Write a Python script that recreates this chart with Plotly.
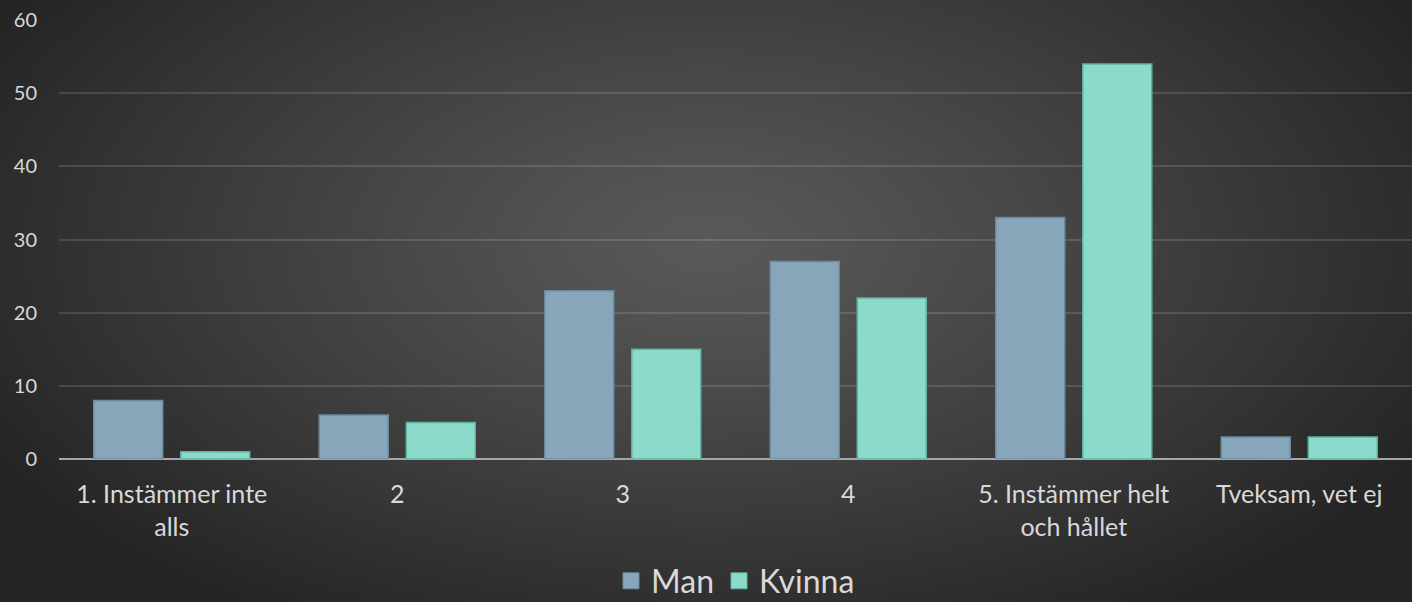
import base64
import struct
import zlib

import plotly.graph_objects as go

categories = ["1. Instämmer inte<br>alls", "2", "3", "4", "5. Instämmer helt<br>och hållet", "Tveksam, vet ej"]
man_values = [8, 6, 23, 27, 33, 3]
kvinna_values = [1, 5, 15, 22, 54, 3]
y_ticks = [0, 10, 20, 30, 40, 50, 60]

W, H = 1412, 602
ML, MR, MT, MB = 59, 0, 20, 143

MAN_COLOR = "#87a6ba"
MAN_EDGE = "#6a8aa0"
KV_COLOR = "#8cdac9"
KV_EDGE = "#5cb3a1"


def gradient_png(w, h):
    cx, cy = 0.5 * w, 0.40 * h
    rx, ry = 0.5 * w, 0.63 * h
    rows = []
    for j in range(h):
        row = bytearray()
        for i in range(w):
            dx = (i - cx) / rx
            dy = (j - cy) / ry
            r = (dx * dx + dy * dy) ** 0.5
            t = min(1.0, r / 1.15)
            v = int(round(0x59 + (0x25 - 0x59) * (t ** 1.15)))
            row.append(v)
        rows.append(b"\x00" + bytes(row))
    raw = b"".join(rows)

    def chunk(tag, data):
        c = struct.pack(">I", len(data)) + tag + data
        return c + struct.pack(">I", zlib.crc32(tag + data) & 0xFFFFFFFF)

    png = b"\x89PNG\r\n\x1a\n"
    png += chunk(b"IHDR", struct.pack(">IIBBBBB", w, h, 8, 0, 0, 0, 0))
    png += chunk(b"IDAT", zlib.compress(raw, 9))
    png += chunk(b"IEND", b"")
    return "data:image/png;base64," + base64.b64encode(png).decode()


bg = gradient_png(353, 151)

font = "Lato, 'Open Sans', sans-serif"

fig = go.Figure()
fig.add_trace(go.Bar(
    name="Man", x=categories, y=man_values, showlegend=False, legendgroup="man",
    marker=dict(color=MAN_COLOR, line=dict(color=MAN_EDGE, width=1.5)),
))
fig.add_trace(go.Bar(
    name="Kvinna", x=categories, y=kvinna_values, showlegend=False, legendgroup="kv",
    marker=dict(color=KV_COLOR, line=dict(color=KV_EDGE, width=1.5)),
))
# legend entries (larger square swatches)
fig.add_trace(go.Scatter(
    name="Man", x=[None], y=[None], mode="markers", legendgroup="man",
    marker=dict(symbol="square", size=20, color=MAN_COLOR, line=dict(color=MAN_EDGE, width=1)),
))
fig.add_trace(go.Scatter(
    name="Kvinna", x=[None], y=[None], mode="markers", legendgroup="kv",
    marker=dict(symbol="square", size=20, color=KV_COLOR, line=dict(color=KV_EDGE, width=1)),
))

pw = W - ML - MR
ph = H - MT - MB

fig.update_layout(
    width=W, height=H,
    margin=dict(l=ML, r=MR, t=MT, b=MB, pad=0, autoexpand=False),
    paper_bgcolor="#2a2a2a",
    plot_bgcolor="rgba(0,0,0,0)",
    barmode="group",
    bargap=0.228,
    bargroupgap=0.207,
    font=dict(family=font, color="#d9d9d9", size=20),
    showlegend=True,
    legend=dict(
        orientation="h", x=0.5, xanchor="center", y=(459 - 581) / ph, yanchor="middle",
        font=dict(size=32, color="#d9d9d9"), bgcolor="rgba(0,0,0,0)",
        itemwidth=30, tracegroupgap=0,
    ),
    images=[dict(
        source=bg, xref="paper", yref="paper",
        x=-ML / pw, y=1 + MT / ph, sizex=W / pw, sizey=H / ph,
        xanchor="left", yanchor="top", sizing="stretch", layer="below",
    )],
    xaxis=dict(
        showgrid=False, zeroline=False, showline=False,
        ticks="outside", ticklen=13, tickcolor="rgba(0,0,0,0)",
        tickfont=dict(size=25, color="#d9d9d9"),
    ),
    yaxis=dict(
        range=[0, 60], tickvals=y_ticks,
        showgrid=True, gridcolor="rgba(255,255,255,0.13)", gridwidth=1.5,
        zeroline=True, zerolinecolor="#a6a6a6", zerolinewidth=2,
        showline=False,
        ticks="outside", ticklen=17, tickcolor="rgba(0,0,0,0)",
        tickfont=dict(size=20, color="#d9d9d9"),
    ),
)

fig.write_html(
    "out.html",
    config={"displayModeBar": False},
    post_script="document.body.style.margin='0';document.body.style.overflow='hidden';",
)
